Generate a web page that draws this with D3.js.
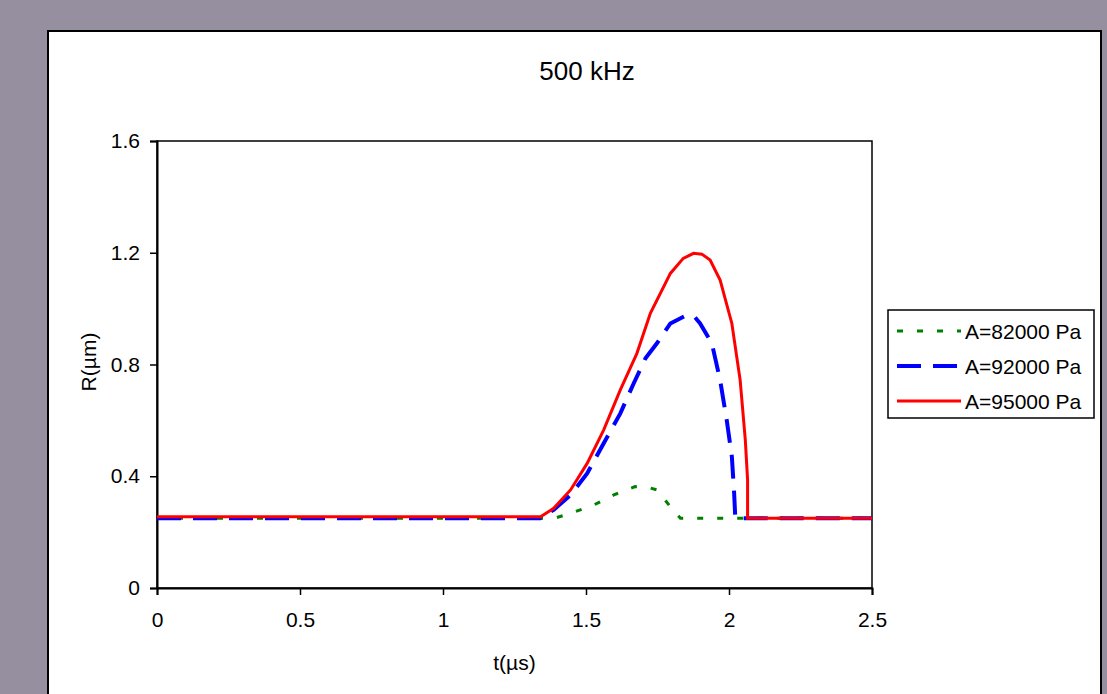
<!DOCTYPE html>
<html>
<head>
<meta charset="utf-8">
<script src="https://cdn.jsdelivr.net/npm/d3@7"></script>
<style>
  body { margin: 0; background: #958fa0; }
  svg { display: block; font-family: Arial, "Liberation Sans", sans-serif; }
</style>
</head>
<body>
<script>
// series data: time in µs, radius in µm
const seriesNames = ["A=82000 Pa", "A=92000 Pa", "A=95000 Pa"];

const t82 = [0, 1.39, 1.446, 1.527, 1.597, 1.672, 1.71, 1.748, 1.795, 1.83, 2.5];
const r82 = [0.25, 0.25, 0.267, 0.297, 0.333, 0.363, 0.362, 0.351, 0.291, 0.25, 0.25];

const t92 = [0, 1.34, 1.387, 1.446, 1.504, 1.562, 1.62, 1.667, 1.708, 1.748, 1.795, 1.853, 1.88, 1.899, 1.94, 1.969, 1.992, 2.01, 2.018, 2.022, 2.5];
const r92 = [0.25, 0.25, 0.28, 0.333, 0.41, 0.518, 0.625, 0.733, 0.822, 0.876, 0.947, 0.977, 0.97, 0.947, 0.876, 0.744, 0.601, 0.47, 0.339, 0.25, 0.25];

const t95 = [0, 1.341, 1.387, 1.446, 1.504, 1.562, 1.62, 1.678, 1.725, 1.795, 1.84, 1.876, 1.905, 1.934, 1.969, 2.01, 2.039, 2.057, 2.065, 2.065, 2.5];
const r95 = [0.255, 0.255, 0.285, 0.351, 0.446, 0.566, 0.709, 0.84, 0.983, 1.126, 1.18, 1.198, 1.195, 1.174, 1.102, 0.947, 0.744, 0.53, 0.387, 0.25, 0.25];

const xTicks = [0, 0.5, 1, 1.5, 2, 2.5];
const yTicks = [0, 0.4, 0.8, 1.2, 1.6];

const w = 1107;
const h = 694;

const svg = d3.select("body")
  .append("svg")
  .attr("width", w)
  .attr("height", h);

// white chart panel
svg.append("rect")
  .attr("x", 48).attr("y", 31)
  .attr("width", 1053).attr("height", 720)
  .attr("fill", "white")
  .attr("stroke", "black")
  .attr("stroke-width", 2);

const x = d3.scaleLinear().domain([0, 2.5]).range([157, 872]);
const y = d3.scaleLinear().domain([0, 1.6]).range([588, 141]);

// plot area frame
svg.append("rect")
  .attr("x", x(0)).attr("y", y(1.6))
  .attr("width", x(2.5) - x(0)).attr("height", y(0) - y(1.6))
  .attr("fill", "none")
  .attr("stroke", "black")
  .attr("stroke-width", 1.5);

const xAxis = svg.append("g")
  .attr("transform", "translate(0," + y(0) + ")")
  .call(d3.axisBottom(x).tickValues(xTicks).tickFormat(d3.format("")).tickSize(7).tickPadding(17));

const yAxis = svg.append("g")
  .attr("transform", "translate(" + x(0) + ",0)")
  .call(d3.axisLeft(y).tickValues(yTicks).tickFormat(d3.format("")).tickSize(7).tickPadding(10));

[xAxis, yAxis].forEach(function (g) {
  g.select(".domain").attr("stroke-width", 2);
  g.selectAll(".tick line").attr("stroke-width", 1.5);
  g.selectAll("text").attr("font-size", 21).attr("fill", "black");
});

// titles
svg.append("text")
  .attr("x", 587).attr("y", 80)
  .attr("text-anchor", "middle")
  .attr("font-size", 26)
  .text("500 kHz");

svg.append("text")
  .attr("x", (x(0) + x(2.5)) / 2).attr("y", 670)
  .attr("text-anchor", "middle")
  .attr("font-size", 21)
  .text("t(µs)");

svg.append("text")
  .attr("transform", "translate(96,362) rotate(-90)")
  .attr("text-anchor", "middle")
  .attr("font-size", 21)
  .text("R(µm)");

// curves
const series = [
  { t: t82, r: r82, color: "#008000", width: 3, dash: "6,14" },
  { t: t92, r: r92, color: "#0000ff", width: 4, dash: "24,12" },
  { t: t95, r: r95, color: "#ff0000", width: 3, dash: null }
];

const line = d3.line()
  .x(function (d) { return x(d[0]); })
  .y(function (d) { return y(d[1]); });

series.forEach(function (s) {
  const pts = s.t.map(function (t, i) { return [t, s.r[i]]; });
  svg.append("path")
    .datum(pts)
    .attr("d", line)
    .attr("fill", "none")
    .attr("stroke", s.color)
    .attr("stroke-width", s.width)
    .attr("stroke-dasharray", s.dash);
});

// legend
const legend = svg.append("g");
legend.append("rect")
  .attr("x", 888).attr("y", 310)
  .attr("width", 206).attr("height", 108)
  .attr("fill", "white")
  .attr("stroke", "black")
  .attr("stroke-width", 1.5);

series.forEach(function (s, i) {
  const ly = 331 + i * 35;
  legend.append("line")
    .attr("x1", 897).attr("x2", 961)
    .attr("y1", ly).attr("y2", ly)
    .attr("stroke", s.color)
    .attr("stroke-width", s.width)
    .attr("stroke-dasharray", s.dash);
  legend.append("text")
    .attr("x", 965).attr("y", ly + 8)
    .attr("font-size", 21)
    .text(seriesNames[i]);
});
</script>
</body>
</html>
